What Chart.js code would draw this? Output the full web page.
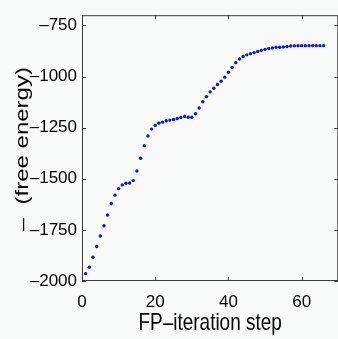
<!DOCTYPE html>
<html>
<head>
<meta charset="utf-8">
<script src="https://cdn.jsdelivr.net/npm/chart.js@4"></script>
<style>
  html, body { margin: 0; padding: 0; background: #f7faf8; overflow: hidden; }
  #wrap { width: 340px; height: 339px; }
</style>
</head>
<body>
<div id="wrap"><canvas id="energyChart" width="340" height="339"></canvas></div>
<script>
// fixed-point iterations and the negative free energy at each step
const steps = [
  1, 2, 3, 4, 5, 6, 7, 8, 9, 10, 11, 12, 13, 14, 15, 16, 17, 18, 19, 20, 21, 22,
  23, 24, 25, 26, 27, 28, 29, 30, 31, 32, 33, 34, 35, 36, 37, 38, 39, 40, 41, 42, 43, 44,
  45, 46, 47, 48, 49, 50, 51, 52, 53, 54, 55, 56, 57, 58, 59, 60, 61, 62, 63, 64, 65, 66
];
const negFreeEnergy = [
  -1964, -1933, -1884, -1831, -1780, -1730, -1677, -1621, -1580, -1548, -1530, -1522,
  -1521, -1509, -1462, -1400, -1338, -1291, -1257, -1239, -1228, -1223, -1216, -1213,
  -1210, -1205, -1200, -1195, -1199, -1199, -1182, -1154, -1123, -1098, -1075, -1057,
  -1039, -1023, -1003, -979, -955, -932, -914, -902, -894, -888, -883, -877,
  -872, -867, -863, -860, -857, -857, -855, -853, -851, -850, -849, -849,
  -849, -849, -849, -849, -849, -849
];
const xTicks = [0, 20, 40, 60];
const yTicks = [-2000, -1750, -1500, -1250, -1000, -750];
const xLabel = 'FP\u2013iteration step';
const yLabel = '\u2013  (free energy)';

const points = steps.map((s, i) => ({ x: s, y: negFreeEnergy[i] }));

const fmt = v => (v < 0 ? '\u2013' + Math.abs(v) : String(v));

// axes box with inward ticks on all four sides, plus the narrow axis labels
const boxTicks = {
  id: 'boxTicks',
  afterDatasetsDraw(chart) {
    const { ctx, chartArea: a, scales: { x, y } } = chart;
    const len = 4;
    ctx.save();
    ctx.strokeStyle = '#3a3a3a';
    ctx.lineWidth = 1;
    ctx.strokeRect(a.left + 0.5, a.top + 0.5, a.right - a.left - 1, a.bottom - a.top - 1);
    ctx.beginPath();
    x.ticks.forEach(t => {
      const px = Math.round(x.getPixelForValue(t.value)) + 0.5;
      ctx.moveTo(px, a.bottom);
      ctx.lineTo(px, a.bottom - len);
      ctx.moveTo(px, a.top);
      ctx.lineTo(px, a.top + len);
    });
    y.ticks.forEach(t => {
      const py = Math.round(y.getPixelForValue(t.value)) + 0.5;
      ctx.moveTo(a.left, py);
      ctx.lineTo(a.left + len, py);
      ctx.moveTo(a.right, py);
      ctx.lineTo(a.right - len, py);
    });
    ctx.stroke();

    ctx.font = '24px "Liberation Sans", Arial, sans-serif';
    ctx.fillStyle = '#000';
    ctx.textAlign = 'center';
    ctx.textBaseline = 'alphabetic';

    // x label, squeezed horizontally
    ctx.save();
    ctx.translate((a.left + a.right) / 2, x.bottom - 9.5);
    ctx.scale(0.79, 1);
    ctx.fillText(xLabel, 0, 0);
    ctx.restore();

    // y label, rotated, glyph height squeezed the same way
    ctx.save();
    ctx.translate(28, (a.top + a.bottom) / 2 + 1);
    ctx.scale(0.79, 1);
    ctx.rotate(-Math.PI / 2);
    ctx.fillText(yLabel, 0, 0);
    ctx.restore();

    ctx.restore();
  }
};

Chart.defaults.font.family = '"Liberation Sans", Arial, sans-serif';
Chart.defaults.color = '#000';

new Chart(document.getElementById('energyChart'), {
  type: 'scatter',
  data: {
    datasets: [{
      data: points,
      showLine: false,
      pointRadius: 1.7,
      pointHoverRadius: 1.7,
      pointBackgroundColor: '#1010d8',
      pointBorderWidth: 0
    }]
  },
  options: {
    responsive: false,
    animation: false,
    layout: { padding: { top: 13, right: 0, left: 0, bottom: 0 } },
    plugins: {
      legend: { display: false },
      tooltip: { enabled: false }
    },
    scales: {
      x: {
        type: 'linear',
        min: 0,
        max: 70,
        afterBuildTicks: s => { s.ticks = xTicks.map(v => ({ value: v })); },
        afterFit: s => { s.height = 58; },
        grid: { display: false, drawTicks: false },
        border: { display: false },
        ticks: {
          font: { size: 17 },
          padding: 11,
          maxRotation: 0,
          callback: fmt
        },
        title: { display: false }
      },
      y: {
        type: 'linear',
        min: -2000,
        max: -700,
        afterBuildTicks: s => { s.ticks = yTicks.map(v => ({ value: v })); },
        afterFit: s => { s.width = 82; },
        grid: { display: false, drawTicks: false },
        border: { display: false },
        ticks: {
          font: { size: 17 },
          padding: 5,
          callback: fmt
        },
        title: { display: false }
      }
    }
  },
  plugins: [boxTicks]
});
</script>
</body>
</html>
